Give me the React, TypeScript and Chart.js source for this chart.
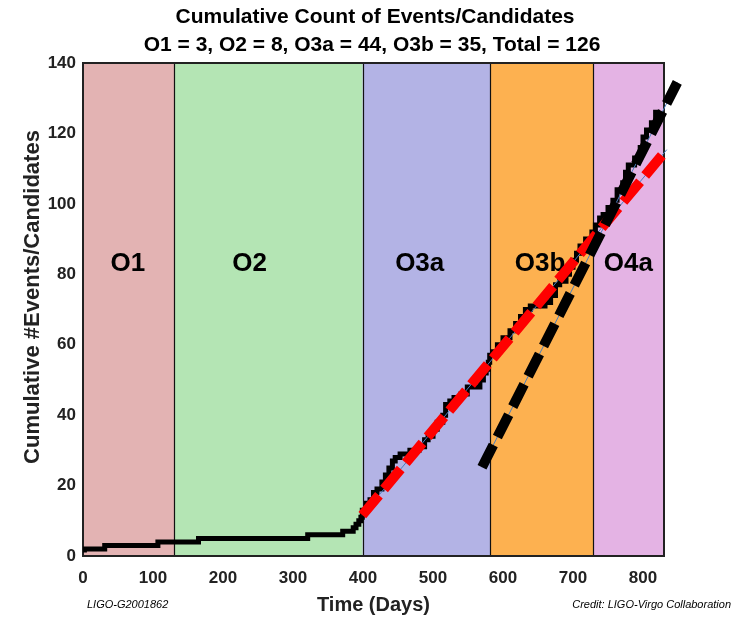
import { useEffect, useRef } from "react";
import { Chart, registerables } from "chart.js";

Chart.register(...registerables);

// ---- data ----
const titleLines = [
  "Cumulative Count of Events/Candidates",
  "O1 = 3, O2 = 8, O3a = 44, O3b = 35, Total = 126",
];

const stepDays = [
  2, 31, 107, 165, 321, 371, 386, 390, 394, 397, 399,
  405, 410, 415, 420, 427, 432, 437, 442, 446, 453, 467, 480, 488, 493, 500, 506, 514, 518, 524, 530, 540, 549, 567, 572, 576, 579, 581,
  585, 592, 600, 610, 618, 625, 632, 639, 660, 668, 675, 681, 690, 695, 700, 705, 710, 718, 727,
  732, 738, 743, 750, 757, 763, 771, 775, 779, 788, 796, 800, 805, 812, 818, 824,
];
const stepCounts = [
  1, 2, 3, 4, 5, 6, 7, 8, 9, 10, 11,
  13, 15, 16, 18, 19, 21, 23, 25, 27, 28, 29, 30, 31, 33, 34, 36, 38, 40, 43, 44, 45, 46, 48, 50, 52, 53, 55,
  57, 58, 60, 62, 64, 66, 68, 70, 71, 72, 74, 77, 78, 80, 82, 84, 86, 88, 90,
  92, 94, 96, 97, 99, 101, 104, 106, 109, 111, 113, 116, 119, 121, 123, 126,
];

const redFitDays = [399, 834];
const redFitCounts = [11.6, 115.4];
const blackFitDays = [570, 849];
const blackFitCounts = [25.2, 134.5];

const bandNames = ["O1", "O2", "O3a", "O3b", "O4a"];
const bandStarts = [0, 130.5, 399.5, 581.5, 729];
const bandEnds = [130.5, 399.5, 581.5, 729, 830];
const bandColors = ["#e3b3b3", "#b4e5b4", "#b3b3e5", "#fdb150", "#e4b3e4"];
const bandLabelDays = [64, 238, 481, 653, 779];
const bandLabelCount = 83;

const xTickValues = [0, 100, 200, 300, 400, 500, 600, 700, 800];
const yTickValues = [0, 20, 40, 60, 80, 100, 120, 140];

const xAxisTitle = "Time (Days)";
const yAxisTitle = "Cumulative #Events/Candidates";
const leftNote = "LIGO-G2001862";
const rightNote = "Credit: LIGO-Virgo Collaboration";

const FONT = '"Liberation Sans", Arial, Helvetica, sans-serif';

const bandsPlugin = {
  id: "bands",
  beforeDatasetsDraw(chart: any) {
    const { ctx, chartArea, scales } = chart;
    const xs = scales.x;
    const ys = scales.y;
    ctx.save();
    for (let i = 0; i < bandNames.length; i++) {
      const x0 = xs.getPixelForValue(bandStarts[i]);
      const x1 = xs.getPixelForValue(bandEnds[i]);
      ctx.fillStyle = bandColors[i];
      ctx.fillRect(x0, chartArea.top, x1 - x0, chartArea.bottom - chartArea.top);
    }
    ctx.strokeStyle = "#111";
    ctx.lineWidth = 1.2;
    for (let i = 1; i < bandNames.length; i++) {
      const x = Math.round(xs.getPixelForValue(bandStarts[i])) + 0.5;
      ctx.beginPath();
      ctx.moveTo(x, chartArea.top);
      ctx.lineTo(x, chartArea.bottom);
      ctx.stroke();
    }
    ctx.lineWidth = 2;
    ctx.strokeStyle = "#222";
    ctx.strokeRect(chartArea.left, chartArea.top, chartArea.right - chartArea.left, chartArea.bottom - chartArea.top);
    ctx.fillStyle = "#000";
    ctx.font = `bold 26px ${FONT}`;
    ctx.textAlign = "center";
    ctx.textBaseline = "middle";
    for (let i = 0; i < bandNames.length; i++) {
      ctx.fillText(bandNames[i], xs.getPixelForValue(bandLabelDays[i]), ys.getPixelForValue(bandLabelCount));
    }
    ctx.restore();
  },
  afterDraw(chart: any) {
    const { ctx } = chart;
    ctx.save();
    // title
    ctx.fillStyle = "#000";
    ctx.font = `bold 21px ${FONT}`;
    ctx.textAlign = "center";
    ctx.textBaseline = "middle";
    ctx.fillText(titleLines[0], 375, 17);
    ctx.fillText(titleLines[1], 372, 45);
    // notes
    ctx.font = `italic 11px ${FONT}`;
    ctx.textAlign = "left";
    ctx.fillText(leftNote, 87, 605);
    ctx.textAlign = "right";
    ctx.fillText(rightNote, 731, 605);
    // y axis title
    ctx.translate(33, 297);
    ctx.rotate(-Math.PI / 2);
    ctx.fillStyle = "#222";
    ctx.font = `bold 22px ${FONT}`;
    ctx.textAlign = "center";
    ctx.fillText(yAxisTitle, 0, 0);
    ctx.restore();
  },
};

export default function App() {
  const ref = useRef<HTMLCanvasElement | null>(null);
  useEffect(() => {
    document.body.style.margin = "0";
    const canvas = ref.current;
    if (!canvas) return;
    const pts = (xs: number[], ys: number[]) => xs.map((x, i) => ({ x, y: ys[i] }));
    const chart = new Chart(canvas, {
      type: "line",
      data: {
        datasets: [
          {
            data: pts(stepDays, stepCounts),
            stepped: "after",
            borderColor: "#000",
            borderWidth: 5,
            pointRadius: 0,
            borderJoinStyle: "miter",
            order: 4,
          } as any,
          {
            data: pts(redFitDays, redFitCounts),
            borderColor: "#4a7fc0",
            borderWidth: 1,
            pointRadius: 0,
            clip: false,
            order: 3,
          } as any,
          {
            data: pts(blackFitDays, blackFitCounts),
            borderColor: "#4a7fc0",
            borderWidth: 1,
            pointRadius: [0, 6],
            pointStyle: "line",
            pointRotation: 27,
            pointBorderColor: "#000",
            pointBorderWidth: 1,
            clip: false,
            order: 3,
          } as any,
          {
            data: pts(redFitDays, redFitCounts),
            borderColor: "#ff0000",
            borderWidth: 10,
            borderDash: [26, 8],
            pointRadius: 0,
            clip: false,
            order: 2,
          } as any,
          {
            data: pts(blackFitDays, blackFitCounts),
            borderColor: "#000",
            borderWidth: 10,
            borderDash: [25, 9],
            pointRadius: 0,
            clip: false,
            order: 1,
          } as any,
        ],
      },
      options: {
        animation: false,
        responsive: false,
        layout: { padding: { left: 0, right: 89, top: 63, bottom: 0 } },
        plugins: {
          legend: { display: false },
          tooltip: { enabled: false },
          title: { display: false },
        },
        scales: {
          x: {
            type: "linear",
            min: 0,
            max: 830,
            grid: { display: false, drawTicks: false },
            border: { display: false },
            afterBuildTicks: (s: any) => {
              s.ticks = xTickValues.map((v) => ({ value: v }));
            },
            afterFit: (s: any) => {
              s.height = 67;
            },
            ticks: {
              color: "#222",
              font: { family: FONT, size: 17, weight: "bold" },
              padding: 12,
              maxRotation: 0,
              autoSkip: false,
            },
            title: {
              display: true,
              text: xAxisTitle,
              color: "#222",
              font: { family: FONT, size: 20, weight: "bold", lineHeight: 1.2 },
              padding: { top: 0, bottom: 6 },
            },
          },
          y: {
            type: "linear",
            min: 0,
            max: 140,
            grid: { display: false, drawTicks: false },
            border: { display: false },
            afterBuildTicks: (s: any) => {
              s.ticks = yTickValues.map((v) => ({ value: v }));
            },
            afterFit: (s: any) => {
              s.width = 83;
            },
            ticks: {
              color: "#222",
              font: { family: FONT, size: 17, weight: "bold" },
              padding: 7,
              autoSkip: false,
            },
          },
        },
      },
      plugins: [bandsPlugin],
    });
    return () => chart.destroy();
  }, []);
  return (
    <div style={{ width: 753, height: 623 }}>
      <canvas ref={ref} width={753} height={623} style={{ width: 753, height: 623, display: "block" }} />
    </div>
  );
}
